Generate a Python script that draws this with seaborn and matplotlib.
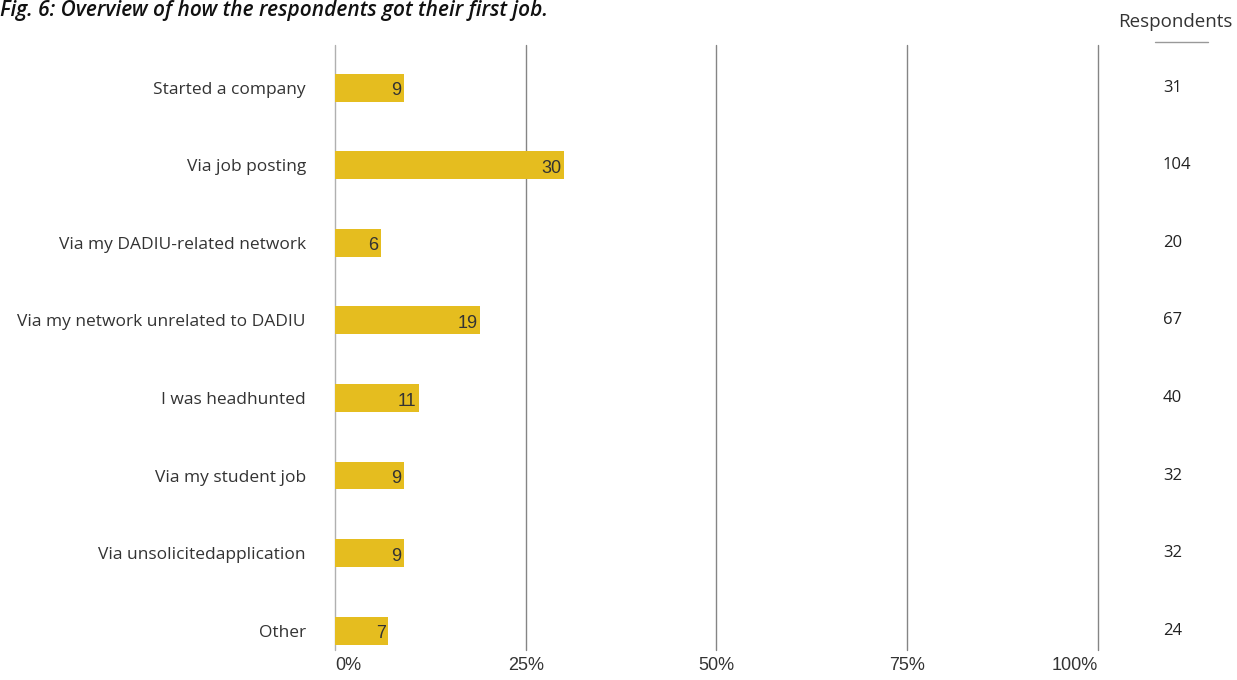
import matplotlib
matplotlib.use("Agg")
import matplotlib.pyplot as plt
import seaborn as sns
import pandas as pd

categories = [
    "Started a company",
    "Via job posting",
    "Via my DADIU-related network",
    "Via my network unrelated to DADIU",
    "I was headhunted",
    "Via my student job",
    "Via unsolicitedapplication",
    "Other",
]
share_pct = [9, 30, 6, 19, 11, 9, 9, 7]
respondents = [31, 104, 20, 67, 40, 32, 32, 24]
x_ticks = [0, 25, 50, 75, 100]
x_tick_labels = ["0%", "25%", "50%", "75%", "100%"]

df = pd.DataFrame({"category": categories, "share": share_pct, "n": respondents})

sns.set_theme(style="white")
plt.rcParams["font.family"] = ["Open Sans", "DejaVu Sans"]
narrow = "Liberation Sans"

BAR = "#E5BD1F"

fig = plt.figure(figsize=(12.37, 6.8), dpi=100)
ax = fig.add_axes([0.2708, 0.044, 0.6168, 0.890])

sns.barplot(data=df, x="share", y="category", orient="h", color=BAR,
            width=0.36, saturation=1, linewidth=0, ax=ax, order=categories)

ax.set_xlim(0, 100)
ax.set_ylim(7.25, -0.55)
ax.set_xlabel("")
ax.set_ylabel("")
for s in ax.spines.values():
    s.set_visible(False)

# vertical reference lines
for t in x_ticks:
    ax.axvline(t, color="#b0b0b0" if t == 0 else "#858585", lw=1.0,
               zorder=0.5, clip_on=False)

ax.set_xticks(x_ticks)
ax.set_xticklabels(x_tick_labels, fontfamily=narrow, fontsize=13, color="#333333")
xt = ax.get_xticklabels()
xt[0].set_ha("left")
xt[-1].set_ha("right")
ax.tick_params(axis="x", length=0, pad=5)
ax.tick_params(axis="y", length=0, pad=21)
for lbl in ax.get_yticklabels():
    lbl.set_fontsize(12.5)
    lbl.set_color("#333333")

# value labels inside the bars, near the bar end
for i, v in enumerate(share_pct):
    ax.text(v - 0.3, i + 0.04, str(v), ha="right", va="center",
            fontsize=13, fontfamily=narrow, color="#333333")

# respondents column on the right
trans = ax.get_yaxis_transform()
for i, n in enumerate(respondents):
    ax.text(1.085, i, str(n), transform=trans, ha="left", va="center",
            fontsize=12, color="#222222", clip_on=False)

fig.text(1175 / 1237, 1 - 22 / 680, "Respondents", ha="center", va="center",
         fontsize=13.5, color="#333333")
fig.add_artist(plt.Line2D([1155 / 1237, 1208 / 1237], [1 - 42 / 680, 1 - 42 / 680],
                          color="#999999", lw=1.0))

fig.text(0.0, 1.0, "Fig. 6: Overview of how the respondents got their first job.",
         ha="left", va="top", fontsize=15, fontstyle="italic", fontweight="semibold",
         color="#111111")

fig.savefig("out.png", dpi=100)
